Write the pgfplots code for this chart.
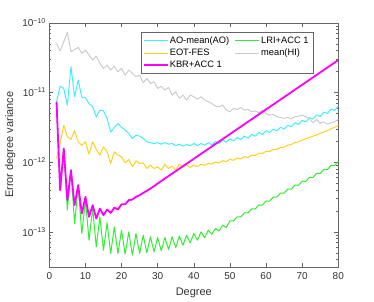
\documentclass[border=0pt]{standalone}
\usepackage{pgfplots}
\pgfplotsset{compat=1.18}
\usepackage{fontspec}
\setmainfont{Liberation Sans}
\definecolor{aoc}{rgb}{0.24,0.94,1.0}
\definecolor{eotc}{rgb}{1.0,0.82,0.12}
\definecolor{lric}{rgb}{0.2,0.93,0.2}
\definecolor{hic}{rgb}{0.8,0.8,0.8}
\definecolor{kbrc}{rgb}{1.0,0.0,1.0}
\begin{document}
\begin{tikzpicture}
\begin{axis}[name=ax, scale only axis, width=289pt, height=244pt,
  xmin=0, xmax=80, ymode=log, ymin=3.1623e-14, ymax=1e-10,
  xtick={0,10,...,80},
  ytick={1e-13,1e-12,1e-11,1e-10},
  yticklabels={10\textsuperscript{−13},10\textsuperscript{−12},10\textsuperscript{−11},10\textsuperscript{−10}},
  minor ytick={4e-14,5e-14,6e-14,7e-14,8e-14,9e-14,2e-13,3e-13,4e-13,5e-13,6e-13,7e-13,8e-13,9e-13,2e-12,3e-12,4e-12,5e-12,6e-12,7e-12,8e-12,9e-12,2e-11,3e-11,4e-11,5e-11,6e-11,7e-11,8e-11,9e-11},
  tick align=inside, tick pos=both,
  major tick length=4pt, minor tick length=2pt,
  axis line style={draw=black!60},
  every tick/.style={black!60},
  tick label style={font=\fontsize{10}{12}\selectfont, text=black!80},
  xticklabel style={yshift=-2pt},
  label style={font=\fontsize{11}{13}\selectfont, text=black!80},
  xlabel={Degree}, ylabel={Error degree variance},
  xlabel style={yshift=-2pt},
  /pgf/number format/assume math mode=true,
  legend columns=2, legend cell align=left,
  legend style={at={(0.915,0.96)}, anchor=north east, draw=black!60, fill=white,
    font=\fontsize{9.3}{11}\selectfont, nodes={text=black},
    /tikz/every even column/.append style={column sep=4pt}},
  every axis plot/.append style={line width=1pt, line join=round},
]
\addlegendimage{legend image code/.code={\fill[fill={rgb,1:red,0.24;green,0.94;blue,1.0}, draw=none] (0pt,-0.5pt) rectangle (24pt,0.5pt);}}
\addlegendentry{AO-mean(AO)}
\addlegendimage{legend image code/.code={\fill[fill={rgb,1:red,0.2;green,0.93;blue,0.2}, draw=none] (0pt,-0.5pt) rectangle (24pt,0.5pt);}}
\addlegendentry{LRI+ACC 1}
\addlegendimage{legend image code/.code={\fill[fill={rgb,1:red,1.0;green,0.82;blue,0.12}, draw=none] (0pt,-0.5pt) rectangle (24pt,0.5pt);}}
\addlegendentry{EOT-FES}
\addlegendimage{legend image code/.code={\fill[fill={rgb,1:red,0.8;green,0.8;blue,0.8}, draw=none] (0pt,-0.5pt) rectangle (24pt,0.5pt);}}
\addlegendentry{mean(HI)}
\addlegendimage{legend image code/.code={\fill[fill={rgb,1:red,1.0;green,0.0;blue,1.0}, draw=none] (0pt,-0.9pt) rectangle (24pt,0.9pt);}}
\addlegendentry{KBR+ACC 1}
\addplot[color=aoc, forget plot] coordinates {(2,7.35e-12)(3,1.23e-11)(4,1.14e-11)(5,6.58e-12)(6,2.34e-11)(7,8.67e-12)(8,1.50e-11)(9,8.48e-12)(10,8.39e-12)(11,6.95e-12)(12,6.23e-12)(13,4.48e-12)(14,5.57e-12)(15,5.45e-12)(16,4.24e-12)(17,2.70e-12)(18,3.15e-12)(19,3.59e-12)(20,3.15e-12)(21,2.88e-12)(22,2.58e-12)(23,2.19e-12)(24,2.44e-12)(25,2.36e-12)(26,2.19e-12)(27,1.96e-12)(28,1.90e-12)(29,1.85e-12)(30,1.90e-12)(31,1.81e-12)(32,1.90e-12)(33,1.81e-12)(34,1.85e-12)(35,1.73e-12)(36,1.81e-12)(37,1.70e-12)(38,1.79e-12)(39,1.72e-12)(40,1.85e-12)(41,1.73e-12)(42,1.85e-12)(43,1.75e-12)(44,1.90e-12)(45,1.77e-12)(46,1.984e-12)(47,1.849e-12)(48,2.074e-12)(49,1.933e-12)(50,2.168e-12)(51,2.020e-12)(52,2.266e-12)(53,2.112e-12)(54,2.368e-12)(55,2.208e-12)(56,2.497e-12)(57,2.348e-12)(58,2.655e-12)(59,2.497e-12)(60,2.825e-12)(61,2.650e-12)(62,2.991e-12)(63,2.807e-12)(64,3.167e-12)(65,2.972e-12)(66,3.390e-12)(67,3.217e-12)(68,3.669e-12)(69,3.481e-12)(70,3.972e-12)(71,3.786e-12)(72,4.339e-12)(73,4.136e-12)(74,4.741e-12)(75,4.519e-12)(76,5.212e-12)(77,5.000e-12)(78,5.768e-12)(79,5.534e-12)(80,6.383e-12)};
\addplot[color=lric, forget plot] coordinates {(2,7.35e-12)(3,3.96e-13)(4,1.57e-12)(5,2.05e-13)(6,7.67e-13)(7,1.32e-13)(8,4.43e-13)(9,9.46e-14)(10,2.85e-13)(11,7.59e-14)(12,2.16e-13)(13,6.09e-14)(14,1.64e-13)(15,5.45e-14)(16,1.35e-13)(17,4.89e-14)(18,1.18e-13)(19,4.89e-14)(20,1.057e-13)(21,4.78e-14)(22,1.0e-13)(23,4.62e-14)(24,9.46e-14)(25,4.89e-14)(26,8.95e-14)(27,5.0e-14)(28,8.47e-14)(29,5.16e-14)(30,8.29e-14)(31,5.34e-14)(32,8.29e-14)(33,5.57e-14)(34,8.47e-14)(35,5.95e-14)(36,8.67e-14)(37,6.44e-14)(38,8.95e-14)(39,6.95e-14)(40,9.46e-14)(41,7.59e-14)(42,1.0e-13)(43,8.29e-14)(44,1.057e-13)(45,9.26e-14)(46,1.117e-13)(47,1.033e-13)(48,1.247e-13)(49,1.153e-13)(50,1.443e-13)(51,1.436e-13)(52,1.643e-13)(53,1.637e-13)(54,1.872e-13)(55,1.865e-13)(56,2.133e-13)(57,2.126e-13)(58,2.432e-13)(59,2.422e-13)(60,2.772e-13)(61,2.761e-13)(62,3.159e-13)(63,3.148e-13)(64,3.600e-13)(65,3.587e-13)(66,4.103e-13)(67,4.088e-13)(68,4.676e-13)(69,4.656e-13)(70,5.328e-13)(71,5.309e-13)(72,6.07e-13)(73,6.05e-13)(74,6.92e-13)(75,6.89e-13)(76,7.88e-13)(77,7.85e-13)(78,8.98e-13)(79,8.95e-13)(80,1.024e-12)};
\addplot[color=eotc, forget plot] coordinates {(2,1.13e-12)(3,1.85e-12)(4,3.40e-12)(5,2.31e-12)(6,2.12e-12)(7,2.82e-12)(8,1.96e-12)(9,1.75e-12)(10,1.96e-12)(11,1.30e-12)(12,1.96e-12)(13,1.52e-12)(14,1.26e-12)(15,1.66e-12)(16,1.41e-12)(17,9.57e-13)(18,1.41e-12)(19,1.26e-12)(20,1.19e-12)(21,9.78e-13)(22,1.09e-12)(23,8.57e-13)(24,1.045e-12)(25,9.57e-13)(26,9.78e-13)(27,8.11e-13)(28,9.06e-13)(29,8.11e-13)(30,8.57e-13)(31,7.67e-13)(32,9.36e-13)(33,8.11e-13)(34,8.77e-13)(35,7.67e-13)(36,9.36e-13)(37,8.57e-13)(38,9.06e-13)(39,8.38e-13)(40,9.06e-13)(41,8.68e-13)(42,9.34e-13)(43,8.99e-13)(44,9.67e-13)(45,9.31e-13)(46,1.006e-12)(47,9.73e-13)(48,1.051e-12)(49,1.017e-12)(50,1.099e-12)(51,1.063e-12)(52,1.149e-12)(53,1.111e-12)(54,1.201e-12)(55,1.161e-12)(56,1.262e-12)(57,1.246e-12)(58,1.348e-12)(59,1.330e-12)(60,1.432e-12)(61,1.427e-12)(62,1.530e-12)(63,1.524e-12)(64,1.627e-12)(65,1.637e-12)(66,1.758e-12)(67,1.788e-12)(68,1.920e-12)(69,1.953e-12)(70,2.070e-12)(72,2.259e-12)(74,2.466e-12)(76,2.711e-12)(78,3.003e-12)(80,3.327e-12)};
\addplot[color=hic, forget plot] coordinates {(2,5.05e-11)(3,3.96e-11)(4,5.34e-11)(5,7.26e-11)(6,3.84e-11)(7,4.14e-11)(8,4.43e-11)(9,3.63e-11)(10,4.05e-11)(11,3.44e-11)(12,2.91e-11)(13,3.32e-11)(14,2.61e-11)(15,2.21e-11)(16,2.47e-11)(17,2.09e-11)(18,2.39e-11)(19,1.98e-11)(20,2.21e-11)(21,1.77e-11)(22,2.09e-11)(23,1.87e-11)(24,1.68e-11)(25,1.77e-11)(26,1.38e-11)(27,1.59e-11)(28,1.35e-11)(29,1.42e-11)(30,1.14e-11)(31,1.23e-11)(32,1.08e-11)(33,1.18e-11)(34,9.16e-12)(35,1.02e-11)(36,8.20e-12)(37,9.16e-12)(38,7.76e-12)(39,9.16e-12)(40,8.67e-12)(41,8.02e-12)(42,8.67e-12)(43,7.76e-12)(44,7.35e-12)(45,6.95e-12)(46,6.37e-12)(47,6.23e-12)(48,6.58e-12)(49,5.57e-12)(50,5.28e-12)(51,5.89e-12)(52,5.70e-12)(53,6.09e-12)(54,5.57e-12)(55,5.70e-12)(56,5.28e-12)(57,5.45e-12)(58,5.11e-12)(59,5.57e-12)(60,5.00e-12)(61,4.73e-12)(62,4.83e-12)(63,4.48e-12)(64,4.38e-12)(65,4.24e-12)(66,4.38e-12)(67,4.19e-12)(68,4.48e-12)(69,4.57e-12)(70,4.73e-12)(71,4.48e-12)(72,4.24e-12)(73,3.67e-12)(74,4.10e-12)(75,3.59e-12)(76,3.79e-12)(77,3.51e-12)(78,3.67e-12)(79,3.79e-12)(80,4.10e-12)};
\addplot[color=kbrc, line width=1.8pt, forget plot] coordinates {(2,7.35e-12)(3,3.96e-13)(4,1.57e-12)(5,2.85e-13)(6,7.67e-13)(7,2.42e-13)(8,4.68e-13)(9,1.83e-13)(10,3.18e-13)(11,1.64e-13)(12,2.42e-13)(13,1.55e-13)(14,2.16e-13)(15,1.73e-13)(16,2.09e-13)(17,1.87e-13)(18,2.23e-13)(19,2.09e-13)(20,2.49e-13)(21,2.49e-13)(22,2.85e-13)(23,2.91e-13)(24,3.18e-13)(25,3.36e-13)(26,3.63e-13)(27,3.88e-13)(28,4.19e-13)(29,4.53e-13)(30,4.94e-13)(35,7.43e-13)(40,1.117e-12)(45,1.679e-12)(50,2.523e-12)(55,3.793e-12)(60,5.70e-12)(65,8.57e-12)(70,1.288e-11)(75,1.937e-11)(80,2.911e-11)};
\end{axis}
\path (ax.south west) ++(-49.3pt,-34.3pt) rectangle ++(374pt,301pt);
\end{tikzpicture}
\end{document}
